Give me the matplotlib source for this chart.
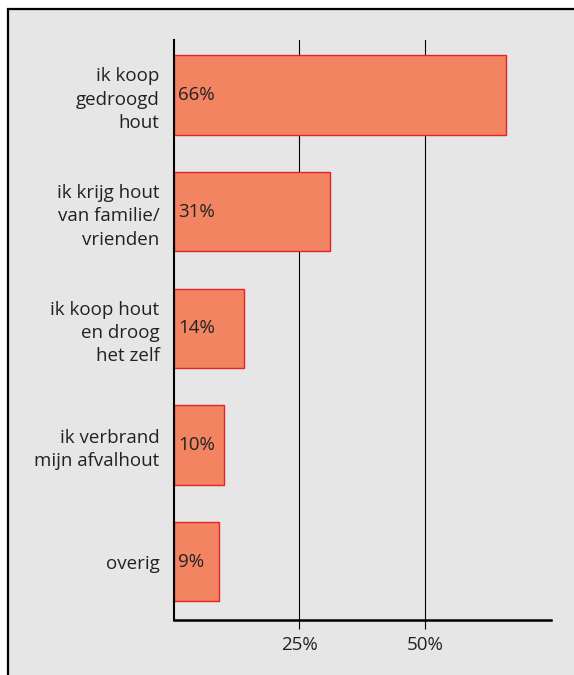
import matplotlib
matplotlib.use("Agg")
import matplotlib.pyplot as plt
from matplotlib.patches import Rectangle

# data
categories = [
    "ik koop\ngedroogd\nhout",
    "ik krijg hout\nvan familie/\nvrienden",
    "ik koop hout\nen droog\nhet zelf",
    "ik verbrand\nmijn afvalhout",
    "overig",
]
values = [66, 31, 14, 10, 9]
tick_values = [25, 50]
tick_labels = ["25%", "50%"]

plt.rcParams["font.family"] = ["Open Sans", "DejaVu Sans"]

W, H = 574, 675
fig = plt.figure(figsize=(W / 100, H / 100), dpi=100, facecolor="white")

# grey panel with black frame (right/bottom run off the page)
fig.patches.append(Rectangle((7.5 / W, -0.1), 1.0, 1.1 - 9 / H, transform=fig.transFigure,
                             facecolor="#e6e6e6", edgecolor="black", linewidth=1.6,
                             zorder=-5))

ax = fig.add_axes([173.5 / W, 1 - 620 / H, (551 - 173.5) / W, (620 - 40) / H])
ax.set_facecolor("none")
ax.set_zorder(2)

ypos = list(range(len(categories)))
ax.barh(ypos, values, height=0.68, color="#f28462", edgecolor="#e8202a",
        linewidth=1.0, zorder=3)

for y, v in zip(ypos, values):
    ax.text(0.9, y, f"{v}%", va="center", ha="left", fontsize=13.5, color="#222222",
            zorder=4)

ax.set_xlim(0, 75)
ax.set_ylim(4.5, -0.47)

ax.set_xticks(tick_values)
ax.set_xticklabels(tick_labels, fontsize=13.5, color="#222222")
ax.tick_params(axis="x", length=6.5, width=0.8, color="black", pad=5)
ax.set_yticks(ypos)
ax.set_yticklabels(categories, fontsize=13.5, color="#222222", linespacing=1.38)
ax.tick_params(axis="y", length=0, pad=10)

ax.grid(axis="x", color="black", linewidth=0.8, zorder=1)
ax.set_axisbelow(True)

for side in ["top", "right"]:
    ax.spines[side].set_visible(False)
ax.spines["left"].set_linewidth(1.5)
ax.spines["bottom"].set_linewidth(1.8)
ax.spines["left"].set_zorder(5)

fig.savefig("out.png", dpi=100, facecolor="white")
